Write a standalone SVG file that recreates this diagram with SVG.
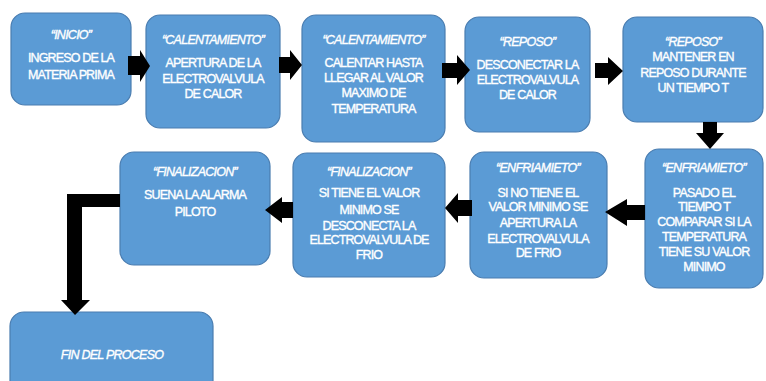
<svg xmlns="http://www.w3.org/2000/svg" width="766" height="381" viewBox="0 0 766 381">
<style>
.box{fill:#5b9bd5;stroke:#4a7db0;stroke-width:1.2}
.t{font-family:"Liberation Sans",Arial,sans-serif;font-size:12.5px;fill:#ffffff;stroke:#ffffff;stroke-width:0.35px;text-anchor:middle;letter-spacing:-0.85px}
.h{font-style:italic;letter-spacing:-0.75px}
.arr{fill:#000000}
</style>
<rect width="766" height="381" fill="#ffffff"/>
<g id="n1"><rect class="box" x="11" y="13" width="120" height="92" rx="14"/>
<text class="t h" x="71" y="39">“INICIO”</text>
<text class="t" x="71" y="62">INGRESO DE LA</text>
<text class="t" x="71" y="79">MATERIA PRIMA</text></g>
<g id="n2"><rect class="box" x="146" y="15" width="134" height="113" rx="14"/>
<text class="t h" x="213" y="44">“CALENTAMIENTO”</text>
<text class="t" x="213" y="67">APERTURA DE LA</text>
<text class="t" x="213" y="83">ELECTROVALVULA</text>
<text class="t" x="213" y="98">DE CALOR</text></g>
<g id="n3"><rect class="box" x="302" y="15" width="143" height="127" rx="14"/>
<text class="t h" x="373.5" y="44">“CALENTAMIENTO”</text>
<text class="t" x="373.5" y="67">CALENTAR HASTA</text>
<text class="t" x="373.5" y="82">LLEGAR AL VALOR</text>
<text class="t" x="373.5" y="97">MAXIMO DE</text>
<text class="t" x="373.5" y="113">TEMPERATURA</text></g>
<g id="n4"><rect class="box" x="465" y="17" width="125" height="115" rx="14"/>
<text class="t h" x="527.5" y="46">“REPOSO”</text>
<text class="t" x="527.5" y="69">DESCONECTAR LA</text>
<text class="t" x="527.5" y="84">ELECTROVALVULA</text>
<text class="t" x="527.5" y="99">DE CALOR</text></g>
<g id="n5"><rect class="box" x="623" y="17" width="140" height="105" rx="14"/>
<text class="t h" x="693" y="46">“REPOSO”</text>
<text class="t" x="693" y="61">MANTENER EN</text>
<text class="t" x="693" y="77">REPOSO DURANTE</text>
<text class="t" x="693" y="92">UN TIEMPO T</text></g>
<g id="n6"><rect class="box" x="645" y="149" width="118" height="139" rx="14"/>
<text class="t h" x="704" y="172">“ENFRIAMIETO”</text>
<text class="t" x="704" y="197">PASADO EL</text>
<text class="t" x="704" y="211">TIEMPO T</text>
<text class="t" x="704" y="226">COMPARAR SI LA</text>
<text class="t" x="704" y="241">TEMPERATURA</text>
<text class="t" x="704" y="256">TIENE SU VALOR</text>
<text class="t" x="704" y="271">MINIMO</text></g>
<g id="n7"><rect class="box" x="470" y="152" width="137" height="126" rx="14"/>
<text class="t h" x="538" y="172">“ENFRIAMIETO”</text>
<text class="t" x="538" y="197">SI NO TIENE EL</text>
<text class="t" x="538" y="211">VALOR MINIMO SE</text>
<text class="t" x="538" y="227">APERTURA LA</text>
<text class="t" x="538" y="243">ELECTROVALVULA</text>
<text class="t" x="538" y="257">DE FRIO</text></g>
<g id="n8"><rect class="box" x="293" y="153" width="152" height="124" rx="14"/>
<text class="t h" x="369" y="176">“FINALIZACION”</text>
<text class="t" x="369" y="197">SI TIENE EL VALOR</text>
<text class="t" x="369" y="214">MINIMO SE</text>
<text class="t" x="369" y="230">DESCONECTA LA</text>
<text class="t" x="369" y="244">ELECTROVALVULA DE</text>
<text class="t" x="369" y="259">FRIO</text></g>
<g id="n9"><rect class="box" x="120" y="152" width="150" height="113" rx="14"/>
<text class="t h" x="195" y="176">“FINALIZACION”</text>
<text class="t" x="195" y="199">SUENA LA ALARMA</text>
<text class="t" x="195" y="216">PILOTO</text></g>
<g id="n10"><rect class="box" x="10" y="312" width="203" height="90" rx="14"/>
<text class="t h" x="112" y="359">FIN DEL PROCESO</text></g>
<g id="connectors">
<polygon class="arr" points="128,56 140,56 140,50 150,66 140,82 140,75 128,75"/>
<polygon class="arr" points="279,57 290,57 290,50 302,65 290,80 290,73 279,73"/>
<polygon class="arr" points="442,63 457,63 457,55 470,70 457,85 457,78 442,78"/>
<polygon class="arr" points="595,63 608,63 608,57 623,71 608,85 608,78 595,78"/>
<polygon class="arr" points="703,122 717,122 717,133 724,133 710,149 696,133 703,133"/>
<polygon class="arr" points="645,205 627,205 627,199 605,212 627,226 627,220 645,220"/>
<polygon class="arr" points="472,200 458,200 458,193 445,208 458,223 458,216 472,216"/>
<polygon class="arr" points="293,202 282,202 282,197 265,210 282,223 282,218 293,218"/>
<polygon class="arr" points="120,194 67,194 67,300 61,300 75,315 90,300 82,300 82,207 120,207"/>
</g>
</svg>
